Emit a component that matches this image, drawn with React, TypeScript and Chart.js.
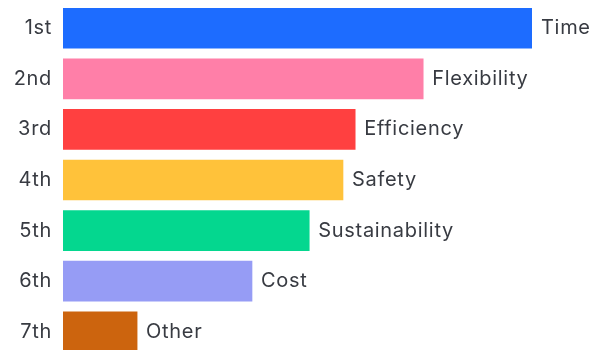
import React, { useEffect, useRef } from "react";
import { Chart, registerables } from "chart.js";

Chart.register(...registerables);

const ranks = ["1st", "2nd", "3rd", "4th", "5th", "6th", "7th"];
const factors = ["Time", "Flexibility", "Efficiency", "Safety", "Sustainability", "Cost", "Other"];
const scores = [100, 76.8, 62.3, 59.7, 52.5, 40.3, 15.8];
const colors = ["#1d6cff", "#ff7fa8", "#ff4040", "#ffc23a", "#04d78f", "#969cf5", "#cc640e"];

const FONT = "Inter, 'Noto Sans', sans-serif";

const textLabels = {
  id: "textLabels",
  afterDatasetsDraw(chart: any) {
    const ctx = chart.ctx;
    const meta = chart.getDatasetMeta(0);
    const yScale = chart.scales.y;
    ctx.save();
    ctx.font = `20px ${FONT}`;
    (ctx as any).letterSpacing = "0.7px";
    ctx.fillStyle = "#383b42";
    ctx.textBaseline = "middle";
    meta.data.forEach((bar: any, i: number) => {
      ctx.textAlign = "left";
      ctx.fillText(factors[i], bar.x + 9, bar.y);
      ctx.textAlign = "right";
      ctx.fillText(ranks[i], chart.chartArea.left - 11, yScale.getPixelForValue(i));
    });
    ctx.restore();
  },
};

export default function App() {
  const ref = useRef<HTMLCanvasElement | null>(null);
  useEffect(() => {
    if (!ref.current) return;
    const chart = new Chart(ref.current, {
      type: "bar",
      data: {
        labels: ranks,
        datasets: [
          {
            data: scores,
            backgroundColor: colors,
            barThickness: 40,
            borderWidth: 0,
          },
        ],
      },
      options: {
        indexAxis: "y",
        animation: false,
        responsive: false,
        maintainAspectRatio: false,
        layout: { padding: { top: 3, bottom: 3, left: 63, right: 58 } },
        plugins: { legend: { display: false }, tooltip: { enabled: false } },
        scales: {
          x: { display: false, min: 0, max: 100 },
          y: { display: false },
        },
      },
      plugins: [textLabels],
    });
    return () => chart.destroy();
  }, []);
  return (
    <div style={{ position: "fixed", left: 0, top: 0, width: 590, height: 360, background: "#fff" }}>
      <canvas ref={ref} width={590} height={360} style={{ display: "block" }} />
    </div>
  );
}
